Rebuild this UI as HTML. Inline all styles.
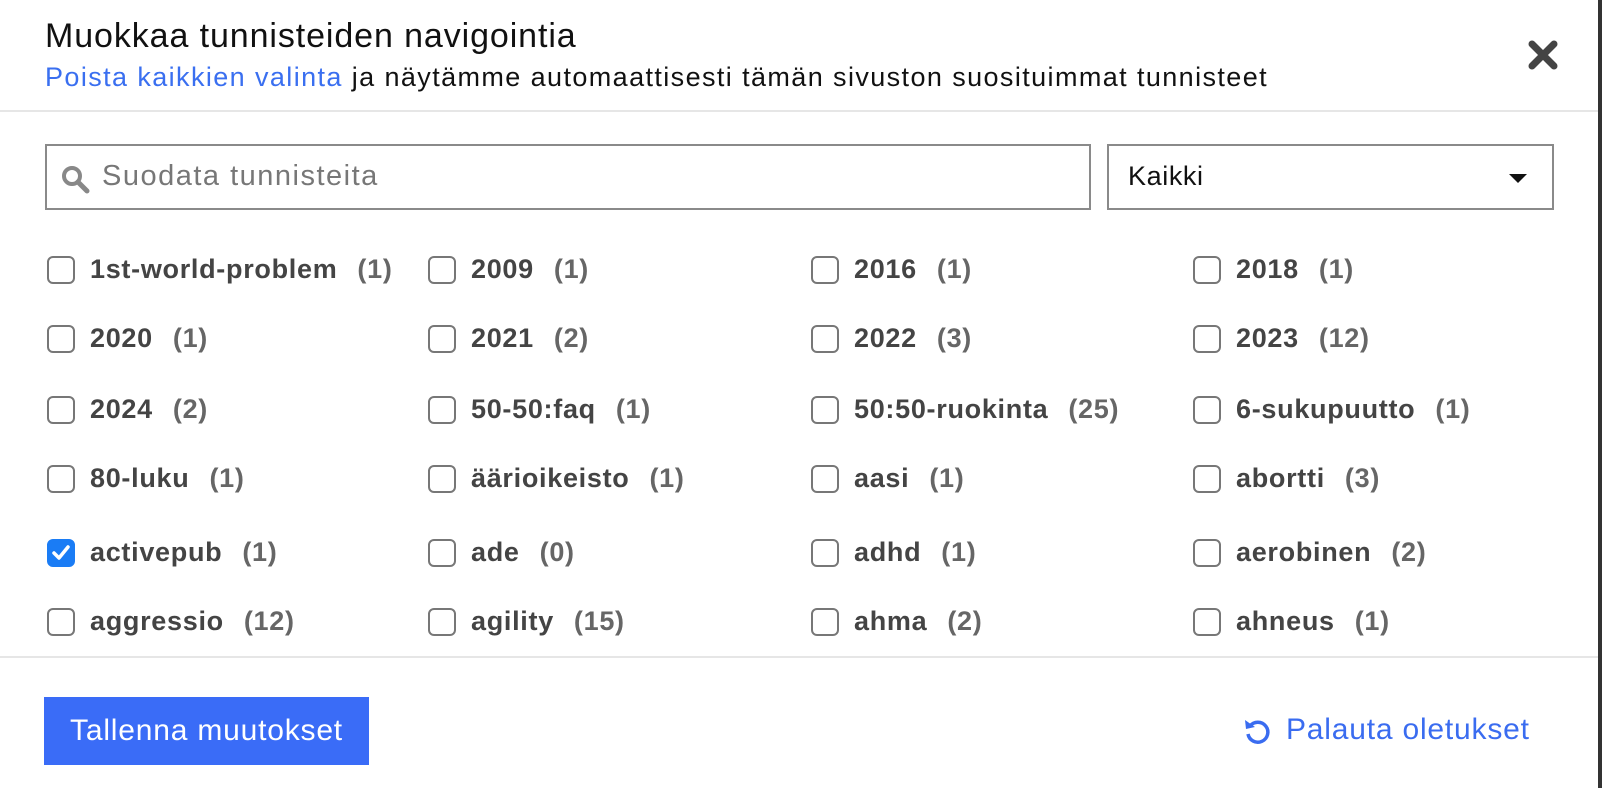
<!DOCTYPE html>
<html><head><meta charset="utf-8"><style>
*{margin:0;padding:0;box-sizing:border-box}
body{width:1602px;height:788px;background:#fff;font-family:"Liberation Sans",sans-serif;position:relative;overflow:hidden}
.a{position:absolute}
.t{left:45px;top:17px;font-size:34px;letter-spacing:0.9px;color:#111}
.s{left:45px;top:62px;font-size:27px;letter-spacing:1.4px;color:#111}
.s span{color:#3a6ff0}
.sep{left:0;width:1598px;height:2px;background:#e6e6e6}
.bar{left:1598px;top:0;width:4px;height:788px;background:#333}
.box{border:2px solid #8a8a8a;height:66px;top:144px}
.cb{width:28px;height:28px;border:2.5px solid #777;border-radius:6px}
.cb.on{background:#1a7cf5;border-color:#1a7cf5}
.lb{font-size:27px;font-weight:bold;color:#444;white-space:nowrap;letter-spacing:0.7px}
.lb i{font-style:normal;color:#666;margin-left:20px}
.btn{left:44px;top:697px;width:325px;height:68px;background:#3a6cf7;color:#fff;font-size:30px;letter-spacing:0.8px;line-height:68px;text-align:center}
.p{top:713px;font-size:30px;letter-spacing:0.8px;color:#3a6cf0}
</style></head><body>
<div class="a t">Muokkaa tunnisteiden navigointia</div>
<div class="a s"><span>Poista kaikkien valinta</span> ja näytämme automaattisesti tämän sivuston suosituimmat tunnisteet</div>
<svg class="a" style="left:1527px;top:39px" width="32" height="32" viewBox="0 0 32 32"><path d="M5 5L27 27M27 5L5 27" stroke="#444" stroke-width="7" stroke-linecap="round"/></svg>
<div class="a sep" style="top:110px"></div>
<div class="a bar"></div>
<div class="a box" style="left:45px;width:1046px"></div>
<svg class="a" style="left:60px;top:164px" width="30" height="30" viewBox="0 0 30 30"><circle cx="12" cy="12" r="8" stroke="#888" stroke-width="4" fill="none"/><path d="M18 18L27 27" stroke="#888" stroke-width="5" stroke-linecap="round"/></svg>
<div class="a" style="left:102px;top:160px;font-size:29px;letter-spacing:1.5px;color:#777">Suodata tunnisteita</div>
<div class="a box" style="left:1107px;width:447px"></div>
<div class="a" style="left:1128px;top:161px;font-size:27px;letter-spacing:0.6px;color:#111">Kaikki</div>
<div class="a" style="left:1509px;top:174px;width:0;height:0;border-left:9px solid transparent;border-right:9px solid transparent;border-top:9px solid #111"></div>
<div id="g"></div>
<div class="a sep" style="top:656px"></div>
<div class="a btn">Tallenna muutokset</div>
<svg class="a" style="left:1242px;top:716px" width="30" height="30" viewBox="0 0 30 30"><path d="M8 10A10 10 0 1 1 6 18" stroke="#3a6cf0" stroke-width="3.5" fill="none"/><path d="M3 4L4 13L13 11Z" fill="#3a6cf0"/></svg>
<div class="a p" style="left:1286px">Palauta oletukset</div>
<script>
var d=[["1st-world-problem","1"],["2009","1"],["2016","1"],["2018","1"],["2020","1"],["2021","2"],["2022","3"],["2023","12"],["2024","2"],["50-50:faq","1"],["50:50-ruokinta","25"],["6-sukupuutto","1"],["80-luku","1"],["äärioikeisto","1"],["aasi","1"],["abortti","3"],["activepub","1"],["ade","0"],["adhd","1"],["aerobinen","2"],["aggressio","12"],["agility","15"],["ahma","2"],["ahneus","1"]];
var xs=[47,428,811,1193],ys=[270,339,410,479,553,622],h="";
d.forEach(function(e,i){var x=xs[i%4],y=ys[Math.floor(i/4)];var on=e[0]=="activepub";
h+='<div class="a cb'+(on?' on':'')+'" style="left:'+x+'px;top:'+(y-14)+'px">'+(on?'<svg width="24" height="24" viewBox="0 0 24 24" style="position:absolute;left:0;top:0"><path d="M5 12L10 17L19 6" stroke="#fff" stroke-width="3.5" fill="none" stroke-linecap="round" stroke-linejoin="round"/></svg>':'')+'</div>';
h+='<div class="a lb" style="left:'+(x+43)+'px;top:'+(y-16)+'px">'+e[0]+'<i>('+e[1]+')</i></div>';});
document.getElementById("g").innerHTML=h;
</script>
</body></html>
